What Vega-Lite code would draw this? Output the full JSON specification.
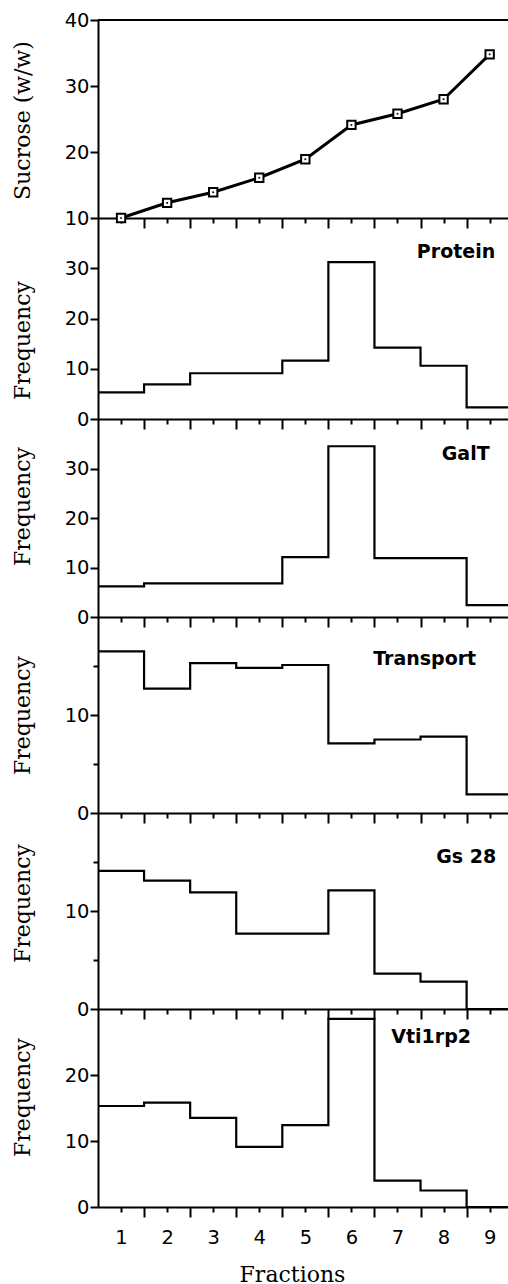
{
  "$schema": "https://vega.github.io/schema/vega-lite/v6.json",
  "padding": {"top": 10, "left": 10, "right": 0, "bottom": 0},
  "background": "white",
  "bounds": "flush",
  "spacing": 0,
  "config": {
    "view": {"stroke": null},
    "axis": {
      "grid": false,
      "domainColor": "black",
      "domainWidth": 2,
      "tickColor": "black",
      "tickWidth": 2,
      "labelColor": "black",
      "labelFont": "DejaVu Sans",
      "labelFontSize": 19.5,
      "labelOverlap": false,
      "labelFlush": false,
      "titleColor": "black",
      "titleFont": "DejaVu Serif",
      "titleFontSize": 22,
      "titleFontWeight": "normal"
    }
  },
  "datasets": {
    "sucrose": [
      {"fraction": 1, "sucrose": 10.0},
      {"fraction": 2, "sucrose": 12.3},
      {"fraction": 3, "sucrose": 13.9},
      {"fraction": 4, "sucrose": 16.1},
      {"fraction": 5, "sucrose": 18.9},
      {"fraction": 6, "sucrose": 24.1},
      {"fraction": 7, "sucrose": 25.8},
      {"fraction": 8, "sucrose": 28.0},
      {"fraction": 9, "sucrose": 34.8}
    ],
    "hist": [
      {"panel": "Protein", "binStart": 0.5, "freq": 5.3},
      {"panel": "Protein", "binStart": 1.5, "freq": 6.9},
      {"panel": "Protein", "binStart": 2.5, "freq": 9.1},
      {"panel": "Protein", "binStart": 3.5, "freq": 9.1},
      {"panel": "Protein", "binStart": 4.5, "freq": 11.6},
      {"panel": "Protein", "binStart": 5.5, "freq": 31.2},
      {"panel": "Protein", "binStart": 6.5, "freq": 14.2},
      {"panel": "Protein", "binStart": 7.5, "freq": 10.6},
      {"panel": "Protein", "binStart": 8.5, "freq": 2.3},
      {"panel": "Protein", "binStart": 9.5, "freq": 2.3},
      {"panel": "GalT", "binStart": 0.5, "freq": 6.2},
      {"panel": "GalT", "binStart": 1.5, "freq": 6.8},
      {"panel": "GalT", "binStart": 2.5, "freq": 6.8},
      {"panel": "GalT", "binStart": 3.5, "freq": 6.8},
      {"panel": "GalT", "binStart": 4.5, "freq": 12.1},
      {"panel": "GalT", "binStart": 5.5, "freq": 34.5},
      {"panel": "GalT", "binStart": 6.5, "freq": 11.9},
      {"panel": "GalT", "binStart": 7.5, "freq": 11.9},
      {"panel": "GalT", "binStart": 8.5, "freq": 2.4},
      {"panel": "GalT", "binStart": 9.5, "freq": 2.4},
      {"panel": "Transport", "binStart": 0.5, "freq": 16.5},
      {"panel": "Transport", "binStart": 1.5, "freq": 12.7},
      {"panel": "Transport", "binStart": 2.5, "freq": 15.3},
      {"panel": "Transport", "binStart": 3.5, "freq": 14.8},
      {"panel": "Transport", "binStart": 4.5, "freq": 15.1},
      {"panel": "Transport", "binStart": 5.5, "freq": 7.1},
      {"panel": "Transport", "binStart": 6.5, "freq": 7.5},
      {"panel": "Transport", "binStart": 7.5, "freq": 7.8},
      {"panel": "Transport", "binStart": 8.5, "freq": 1.9},
      {"panel": "Transport", "binStart": 9.5, "freq": 1.9},
      {"panel": "Gs 28", "binStart": 0.5, "freq": 14.1},
      {"panel": "Gs 28", "binStart": 1.5, "freq": 13.1},
      {"panel": "Gs 28", "binStart": 2.5, "freq": 11.9},
      {"panel": "Gs 28", "binStart": 3.5, "freq": 7.7},
      {"panel": "Gs 28", "binStart": 4.5, "freq": 7.7},
      {"panel": "Gs 28", "binStart": 5.5, "freq": 12.1},
      {"panel": "Gs 28", "binStart": 6.5, "freq": 3.6},
      {"panel": "Gs 28", "binStart": 7.5, "freq": 2.8},
      {"panel": "Gs 28", "binStart": 8.5, "freq": 0},
      {"panel": "Gs 28", "binStart": 9.5, "freq": 0},
      {"panel": "Vti1rp2", "binStart": 0.5, "freq": 15.3},
      {"panel": "Vti1rp2", "binStart": 1.5, "freq": 15.8},
      {"panel": "Vti1rp2", "binStart": 2.5, "freq": 13.5},
      {"panel": "Vti1rp2", "binStart": 3.5, "freq": 9.1},
      {"panel": "Vti1rp2", "binStart": 4.5, "freq": 12.4},
      {"panel": "Vti1rp2", "binStart": 5.5, "freq": 28.5},
      {"panel": "Vti1rp2", "binStart": 6.5, "freq": 4.0},
      {"panel": "Vti1rp2", "binStart": 7.5, "freq": 2.5},
      {"panel": "Vti1rp2", "binStart": 8.5, "freq": 0},
      {"panel": "Vti1rp2", "binStart": 9.5, "freq": 0}
    ],
    "labels": [
      {"panel": "Protein"},
      {"panel": "GalT"},
      {"panel": "Transport"},
      {"panel": "Gs 28"},
      {"panel": "Vti1rp2"}
    ]
  },
  "vconcat": [
    {
      "width": 411, "height": 198,
      "resolve": {"axis": {"x": "independent"}},
      "layer": [
        {
          "data": {"name": "sucrose"},
          "mark": {"type": "line", "color": "black", "strokeWidth": 3},
          "encoding": {
            "x": {"field": "fraction", "type": "quantitative",
                  "scale": {"domain": [0.5, 9.42], "nice": false, "zero": false},
                  "axis": {"orient": "bottom", "values": [1.5,2.5,3.5,4.5,5.5,6.5,7.5,8.5], "labels": false, "title": null, "tickSize": 10}},
            "y": {"field": "sucrose", "type": "quantitative",
                  "scale": {"domain": [10, 40], "nice": false, "zero": false},
                  "axis": {"values": [10,15,20,25,30,35,40], "title": "Sucrose (w/w)",
                           "labelExpr": "datum.value % 10 === 0 ? datum.label : ''",
                           "labelPadding": 1,
                           "tickSize": {"condition": {"test": "datum.value % 10 === 0", "value": 8}, "value": 5},
                           "titleX": -69, "titleY": 100, "titleBaseline": "alphabetic"}}
          }
        },
        {
          "data": {"name": "sucrose"},
          "mark": {"type": "rule", "color": "black", "strokeWidth": 2},
          "encoding": {"y": {"datum": 40, "type": "quantitative"}}
        },
        {
          "data": {"name": "sucrose"},
          "mark": {"type": "point", "shape": "square", "size": 70, "filled": true, "fill": "white", "stroke": "black", "strokeWidth": 2, "opacity": 1},
          "encoding": {
            "x": {"field": "fraction", "type": "quantitative",
                  "axis": {"orient": "bottom", "values": [1,2,3,4,5,6,7,8,9], "labels": false, "title": null, "tickSize": 5, "domain": false}},
            "y": {"field": "sucrose", "type": "quantitative"}
          }
        },
        {
          "data": {"name": "sucrose"},
          "mark": {"type": "point", "shape": "square", "size": 3, "filled": true, "color": "black", "opacity": 1},
          "encoding": {
            "x": {"field": "fraction", "type": "quantitative", "axis": null},
            "y": {"field": "sucrose", "type": "quantitative"}
          }
        }
      ]
    },
    {
      "width": 411, "height": 201,
      "resolve": {"axis": {"x": "independent"}},
      "layer": [
        {
          "data": {"name": "hist"},
          "transform": [{"filter": "datum.panel === 'Protein'"}],
          "mark": {"type": "line", "interpolate": "step-after", "color": "black", "strokeWidth": 2.2, "clip": true},
          "encoding": {
            "x": {"field": "binStart", "type": "quantitative",
                  "scale": {"domain": [0.5, 9.42], "nice": false, "zero": false},
                  "axis": {"orient": "bottom", "values": [1.5,2.5,3.5,4.5,5.5,6.5,7.5,8.5], "labels": false, "title": null, "tickSize": 10}},
            "y": {"field": "freq", "type": "quantitative",
                  "scale": {"domain": [0, 40], "nice": false},
                  "axis": {"values": [0,5,10,15,20,25,30,35], "title": "Frequency",
                           "labelExpr": "datum.value % 10 === 0 ? datum.label : ''",
                           "labelPadding": 1,
                           "tickSize": {"condition": {"test": "datum.value % 10 === 0", "value": 8}, "value": 5},
                           "titleX": -69, "titleY": 122, "titleBaseline": "alphabetic"}}
          }
        },
        {
          "data": {"name": "labels"},
          "transform": [{"filter": "datum.panel === 'Protein'"}],
          "mark": {"type": "text", "font": "DejaVu Sans", "fontWeight": "bold", "fontSize": 19, "align": "center", "baseline": "middle", "color": "black"},
          "encoding": {
            "x": {"datum": 8.27, "type": "quantitative",
                  "axis": {"orient": "bottom", "values": [1,2,3,4,5,6,7,8,9], "labels": false, "title": null, "tickSize": 5, "domain": false}},
            "y": {"datum": 33.3, "type": "quantitative"},
            "text": {"field": "panel"}
          }
        }
      ]
    },
    {
      "width": 411, "height": 198,
      "resolve": {"axis": {"x": "independent"}},
      "layer": [
        {
          "data": {"name": "hist"},
          "transform": [{"filter": "datum.panel === 'GalT'"}],
          "mark": {"type": "line", "interpolate": "step-after", "color": "black", "strokeWidth": 2.2, "clip": true},
          "encoding": {
            "x": {"field": "binStart", "type": "quantitative",
                  "scale": {"domain": [0.5, 9.42], "nice": false, "zero": false},
                  "axis": {"orient": "bottom", "values": [1.5,2.5,3.5,4.5,5.5,6.5,7.5,8.5], "labels": false, "title": null, "tickSize": 10}},
            "y": {"field": "freq", "type": "quantitative",
                  "scale": {"domain": [0, 40], "nice": false},
                  "axis": {"values": [0,5,10,15,20,25,30,35], "title": "Frequency",
                           "labelExpr": "datum.value % 10 === 0 ? datum.label : ''",
                           "labelPadding": 1,
                           "tickSize": {"condition": {"test": "datum.value % 10 === 0", "value": 8}, "value": 5},
                           "titleX": -69, "titleY": 87, "titleBaseline": "alphabetic"}}
          }
        },
        {
          "data": {"name": "labels"},
          "transform": [{"filter": "datum.panel === 'GalT'"}],
          "mark": {"type": "text", "font": "DejaVu Sans", "fontWeight": "bold", "fontSize": 19, "align": "center", "baseline": "middle", "color": "black"},
          "encoding": {
            "x": {"datum": 8.48, "type": "quantitative",
                  "axis": {"orient": "bottom", "values": [1,2,3,4,5,6,7,8,9], "labels": false, "title": null, "tickSize": 5, "domain": false}},
            "y": {"datum": 32.9, "type": "quantitative"},
            "text": {"field": "panel"}
          }
        }
      ]
    },
    {
      "width": 411, "height": 196,
      "resolve": {"axis": {"x": "independent"}},
      "layer": [
        {
          "data": {"name": "hist"},
          "transform": [{"filter": "datum.panel === 'Transport'"}],
          "mark": {"type": "line", "interpolate": "step-after", "color": "black", "strokeWidth": 2.2, "clip": true},
          "encoding": {
            "x": {"field": "binStart", "type": "quantitative",
                  "scale": {"domain": [0.5, 9.42], "nice": false, "zero": false},
                  "axis": {"orient": "bottom", "values": [1.5,2.5,3.5,4.5,5.5,6.5,7.5,8.5], "labels": false, "title": null, "tickSize": 10}},
            "y": {"field": "freq", "type": "quantitative",
                  "scale": {"domain": [0, 20], "nice": false},
                  "axis": {"values": [0,5,10,15], "title": "Frequency",
                           "labelExpr": "datum.value % 10 === 0 ? datum.label : ''",
                           "labelPadding": 1,
                           "tickSize": {"condition": {"test": "datum.value % 10 === 0", "value": 8}, "value": 5},
                           "titleX": -69, "titleY": 98, "titleBaseline": "alphabetic"}}
          }
        },
        {
          "data": {"name": "labels"},
          "transform": [{"filter": "datum.panel === 'Transport'"}],
          "mark": {"type": "text", "font": "DejaVu Sans", "fontWeight": "bold", "fontSize": 19, "align": "center", "baseline": "middle", "color": "black"},
          "encoding": {
            "x": {"datum": 7.59, "type": "quantitative",
                  "axis": {"orient": "bottom", "values": [1,2,3,4,5,6,7,8,9], "labels": false, "title": null, "tickSize": 5, "domain": false}},
            "y": {"datum": 15.7, "type": "quantitative"},
            "text": {"field": "panel"}
          }
        }
      ]
    },
    {
      "width": 411, "height": 196,
      "resolve": {"axis": {"x": "independent"}},
      "layer": [
        {
          "data": {"name": "hist"},
          "transform": [{"filter": "datum.panel === 'Gs 28'"}],
          "mark": {"type": "line", "interpolate": "step-after", "color": "black", "strokeWidth": 2.2, "clip": true},
          "encoding": {
            "x": {"field": "binStart", "type": "quantitative",
                  "scale": {"domain": [0.5, 9.42], "nice": false, "zero": false},
                  "axis": {"orient": "bottom", "values": [1.5,2.5,3.5,4.5,5.5,6.5,7.5,8.5], "labels": false, "title": null, "tickSize": 10}},
            "y": {"field": "freq", "type": "quantitative",
                  "scale": {"domain": [0, 20], "nice": false},
                  "axis": {"values": [0,5,10,15], "title": "Frequency",
                           "labelExpr": "datum.value % 10 === 0 ? datum.label : ''",
                           "labelPadding": 1,
                           "tickSize": {"condition": {"test": "datum.value % 10 === 0", "value": 8}, "value": 5},
                           "titleX": -69, "titleY": 90, "titleBaseline": "alphabetic"}}
          }
        },
        {
          "data": {"name": "labels"},
          "transform": [{"filter": "datum.panel === 'Gs 28'"}],
          "mark": {"type": "text", "font": "DejaVu Sans", "fontWeight": "bold", "fontSize": 19, "align": "center", "baseline": "middle", "color": "black"},
          "encoding": {
            "x": {"datum": 8.49, "type": "quantitative",
                  "axis": {"orient": "bottom", "values": [1,2,3,4,5,6,7,8,9], "labels": false, "title": null, "tickSize": 5, "domain": false}},
            "y": {"datum": 15.5, "type": "quantitative"},
            "text": {"field": "panel"}
          }
        }
      ]
    },
    {
      "width": 411, "height": 198,
      "resolve": {"axis": {"x": "independent"}},
      "layer": [
        {
          "data": {"name": "hist"},
          "transform": [{"filter": "datum.panel === 'Vti1rp2'"}],
          "mark": {"type": "line", "interpolate": "step-after", "color": "black", "strokeWidth": 2.2, "clip": true},
          "encoding": {
            "x": {"field": "binStart", "type": "quantitative",
                  "scale": {"domain": [0.5, 9.42], "nice": false, "zero": false},
                  "axis": {"orient": "bottom", "values": [1.5,2.5,3.5,4.5,5.5,6.5,7.5,8.5], "labels": false, "title": null, "tickSize": 10}},
            "y": {"field": "freq", "type": "quantitative",
                  "scale": {"domain": [0, 30], "nice": false},
                  "axis": {"values": [0,5,10,15,20,25], "title": "Frequency",
                           "labelExpr": "datum.value % 10 === 0 ? datum.label : ''",
                           "labelPadding": 1,
                           "tickSize": {"condition": {"test": "datum.value % 10 === 0", "value": 8}, "value": 5},
                           "titleX": -69, "titleY": 88, "titleBaseline": "alphabetic"}}
          }
        },
        {
          "data": {"name": "labels"},
          "transform": [{"filter": "datum.panel === 'Vti1rp2'"}],
          "mark": {"type": "text", "font": "DejaVu Sans", "fontWeight": "bold", "fontSize": 19, "align": "center", "baseline": "middle", "color": "black"},
          "encoding": {
            "x": {"datum": 7.73, "type": "quantitative",
                  "axis": {"orient": "bottom", "values": [1,2,3,4,5,6,7,8,9], "title": "Fractions", "format": "d",
                           "tickSize": 5, "domain": false, "labelPadding": 16,
                           "titleX": 194, "titleY": 74, "titleBaseline": "alphabetic"}},
            "y": {"datum": 25.7, "type": "quantitative"},
            "text": {"field": "panel"}
          }
        }
      ]
    }
  ]
}
